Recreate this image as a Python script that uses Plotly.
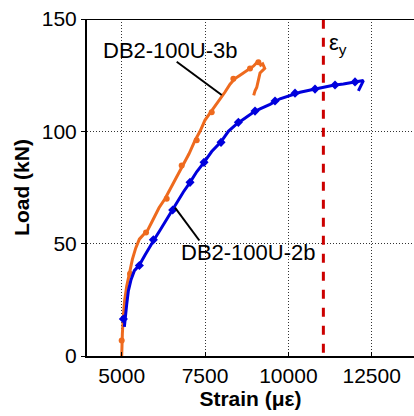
import plotly.graph_objects as go

# ---- data ----
strain_3b = [5000, 5005, 5020, 5050, 5090, 5150, 5230, 5320, 5420, 5530, 5650, 5780, 5950, 6120,
             6300, 6480, 6650, 6850, 7020, 7200, 7350, 7500, 7650, 7800, 7950, 8100, 8250, 8400,
             8550, 8700, 8850, 8950, 9050, 9120, 9170, 9230, 9290, 9220, 9150, 9120, 9090, 9050, 9000, 8960]
load_3b = [0, 5, 10, 18, 25, 31, 37, 43, 48, 52, 54, 56, 61, 66,
           70, 75, 80, 85, 90, 96, 100, 105, 108, 111, 114, 117.5, 121, 123.5,
           125, 126.5, 128, 129, 130.5, 131, 129.5, 130, 128, 127, 126, 124, 121.5, 119.5, 118, 116]
mk_strain_3b = [5000, 5250, 5730, 6350, 6800, 7250, 7700, 8350, 8850, 9100]
mk_load_3b = [6.9, 36.6, 55, 70, 84.8, 96, 108.5, 123.4, 128, 130.7]

strain_2b = [5080, 5100, 5150, 5200, 5280, 5380, 5530, 5700, 5850, 5980, 6150, 6350, 6530, 6650,
             6850, 7050, 7250, 7470, 7700, 7980, 8200, 8450, 8700, 8950, 9150, 9450, 9750, 10050,
             10350, 10700, 11050, 11350, 11650, 11950, 12250, 12200, 12150, 12100]
load_2b = [13, 16.5, 23, 29, 34, 38, 40.5, 45, 49, 52, 56, 61, 65, 68,
           73, 77.3, 82, 86.2, 91, 95.3, 100, 103.3, 106, 108.5, 110, 112, 114.5, 116,
           117.4, 118.5, 119.6, 120.5, 121.1, 121.8, 122.6, 121, 119.5, 118]
mk_strain_2b = [5050, 5530, 5950, 6530, 7050, 7470, 7980, 8500, 9000, 9600, 10200, 10800, 11400, 12000]
mk_load_2b = [16.5, 40.3, 51.7, 65, 77.3, 86.2, 95.1, 104, 109, 113.5, 117, 118.8, 120.6, 122]

yield_strain = 11050
x_ticks = [5000, 7500, 10000, 12500]
y_ticks = [0, 50, 100, 150]

ORANGE = "#EE6A1E"
BLUE = "#0000DD"
FONT = "Liberation Sans, Arial, sans-serif"

fig = go.Figure()
fig.add_trace(go.Scatter(x=strain_3b, y=load_3b, mode="lines",
                         line=dict(color=ORANGE, width=3), showlegend=False))
fig.add_trace(go.Scatter(x=mk_strain_3b, y=mk_load_3b, mode="markers",
                         marker=dict(color=ORANGE, size=6, symbol="circle"), showlegend=False))
fig.add_trace(go.Scatter(x=strain_2b, y=load_2b, mode="lines",
                         line=dict(color=BLUE, width=3), showlegend=False))
fig.add_trace(go.Scatter(x=mk_strain_2b, y=mk_load_2b, mode="markers",
                         marker=dict(color=BLUE, size=7, symbol="diamond"), showlegend=False))

# yield strain line
fig.add_shape(type="line", x0=yield_strain, x1=yield_strain, y0=1.5, y1=150,
              xref="x", yref="y", line=dict(color="#CC0000", width=3, dash="dash"))
# top border
fig.add_shape(type="line", x0=0, x1=1, y0=150, y1=150, xref="paper", yref="y",
              line=dict(color="black", width=2))
# leader lines
fig.add_shape(type="line", x0=6650, y0=131, x1=8000, y1=116.2, xref="x", yref="y",
              line=dict(color="black", width=2))
fig.add_shape(type="line", x0=6600, y0=66, x1=7330, y1=51.4, xref="x", yref="y",
              line=dict(color="black", width=2))

fig.add_annotation(x=6450, y=136, text="DB2-100U-3b", showarrow=False,
                   font=dict(family=FONT, size=22, color="black"))
fig.add_annotation(x=8790, y=46, text="DB2-100U-2b", showarrow=False,
                   font=dict(family=FONT, size=22, color="black"))
fig.add_annotation(x=11150, y=139, text="ε<sub>y</sub>", showarrow=False, xanchor="left",
                   font=dict(family=FONT, size=22, color="black"))

fig.update_layout(
    width=414, height=416,
    margin=dict(l=87, r=0, t=19, b=60),
    plot_bgcolor="white", paper_bgcolor="white",
    font=dict(family=FONT, size=21, color="black"),
    xaxis=dict(range=[3959, 13769], tickvals=x_ticks, ticktext=[str(v) for v in x_ticks],
               showline=True, linecolor="black", linewidth=2, ticks="inside", ticklen=4,
               tickcolor="black", showgrid=True, gridcolor="#333333", griddash="1px,2px", gridwidth=1,
               zeroline=False, tickfont=dict(size=21), automargin=False,
               title=dict(text="<b>Strain (με)</b>", font=dict(size=21), standoff=2)),
    yaxis=dict(range=[0, 150], tickvals=y_ticks, showline=True, linecolor="black", linewidth=2,
               ticks="outside", ticklen=4, tickcolor="black", showgrid=True, gridcolor="#333333",
               griddash="1px,2px", gridwidth=1, zeroline=False, tickfont=dict(size=21),
               automargin=False,
               title=dict(text="<b>Load (kN)</b>", font=dict(size=21), standoff=6)),
)

fig.write_html("out.html", config={"displayModeBar": False},
               post_script="document.body.style.margin='0';document.body.style.overflow='hidden';")
